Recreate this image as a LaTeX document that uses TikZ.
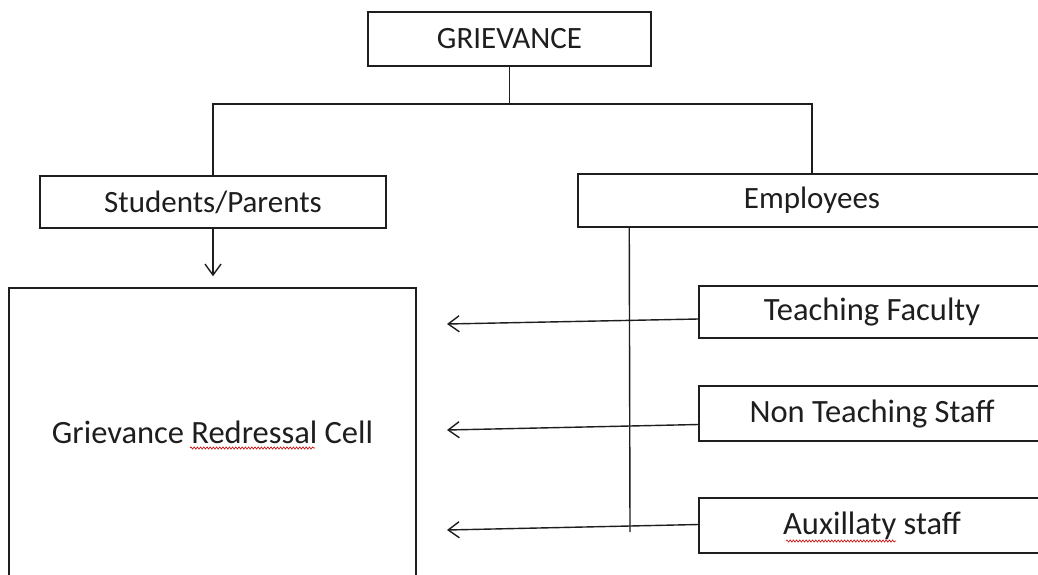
\documentclass[tikz,border=0pt]{standalone}
\usepackage{fontspec}
\setmainfont{Carlito}
\usetikzlibrary{arrows.meta,decorations.pathmorphing}
\definecolor{ink}{HTML}{1E1E1E}
\tikzset{
  box/.style={draw=ink, line width=1.5pt, rectangle, inner sep=0pt, text=ink,
              font=\fontsize{32.5}{38}\selectfont},
  topbox/.style={box, font=\fontsize{31}{36}\selectfont},
  link/.style={draw=ink, line width=1.4pt},
  arr/.style={link, -{Straight Barb[length=11pt,width=16pt,line width=1.4pt]}},
  squig/.style={draw=red!80!black, line width=0.6pt,
                decorate, decoration={snake, amplitude=1.1pt, segment length=3.2pt}}
}
\begin{document}
\begin{tikzpicture}[x=1pt,y=-1pt]
\useasboundingbox (0,0) rectangle (1038,574);
\fill[white] (0,0) rectangle (1038,574);
\clip (0,0) rectangle (1038,574);

% boxes
\node[topbox, minimum width=283pt, minimum height=54pt] (g) at (509.5,39) {GRIEVANCE};
\node[topbox, minimum width=346pt, minimum height=52pt] (sp) at (213,202) {Students/Parents};
\node[topbox, minimum width=468pt, minimum height=53pt] (emp) at (812,200.5) {Employees};
\node[box, minimum width=407pt, minimum height=288pt] (grc) at (212.5,432) {Grievance Redressal Cell};
\node[box, minimum width=346pt, minimum height=52pt] (tf) at (872,312) {Teaching Faculty};
\node[box, minimum width=346pt, minimum height=55pt] (nts) at (872,413.5) {Non Teaching Staff};
\node[box, minimum width=346pt, minimum height=55pt] (aux) at (872,525.5) {Auxillaty staff};

% tree connectors
\coordinate (j) at (g.south |- 0,104);
\draw[link] (g.south) -- (j);
\draw[link] (sp.north) |- (j) -| (emp.north);

% students -> cell
\draw[arr] (sp.south) -- ([yshift=11pt]grc.north -| sp.south);

% employees spine
\coordinate (etop) at ([xshift=52pt]emp.south west);
\coordinate (ebot) at (630,532);
\draw[link] (etop) -- (ebot);

% arrows from employee groups
\coordinate (a1) at (447,324);
\coordinate (a2) at (447,430);
\coordinate (a3) at (447,530);
\draw[arr] ([yshift=-7pt]tf.west) -- (a1);
\draw[arr] ([yshift=-11pt]nts.west) -- (a2);
\draw[arr] ([yshift=1pt]aux.west) -- (a3);

% spell-check underlines
\draw[squig] (190,448) -- (315,448);
\draw[squig] (786,541) -- (896,541);
\end{tikzpicture}
\end{document}
